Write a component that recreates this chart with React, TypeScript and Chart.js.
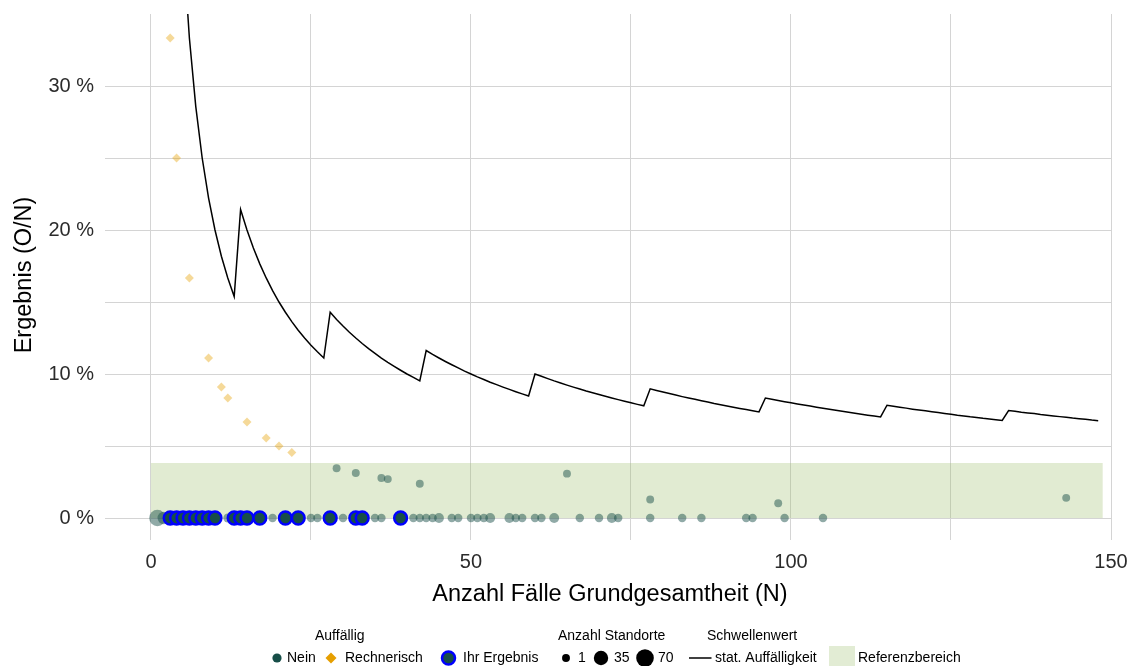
import React, { useEffect, useRef } from "react";
import { Chart, registerables } from "chart.js";

Chart.register(...registerables);

const FONT = '"Liberation Sans", Arial, Helvetica, sans-serif';

// Axis ticks
const xTicks = [0, 25, 50, 75, 100, 125, 150];
const xTickLabels = ["0", "", "50", "", "100", "", "150"];
const yTicks = [0, 5, 10, 15, 20, 25, 30];
const yTickLabels = ["0 %", "", "10 %", "", "20 %", "", "30 %"];

// Auffällig: Nein (grey points) – N, result in %, number of sites
const neinN = [1, 2, 12, 19, 25, 26, 29, 30, 32, 35, 36, 36, 37, 41, 42, 42, 43, 44, 45, 47, 48, 50, 51, 52, 53, 56, 57, 58, 60, 61, 63, 65, 67, 70, 72, 73, 78, 78, 83, 86, 93, 94, 98, 99, 105, 143];
const neinPct = [0, 0, 0, 0, 0, 0, 3.45, 0, 3.13, 0, 0, 2.78, 2.7, 0, 0, 2.38, 0, 0, 0, 0, 0, 0, 0, 0, 0, 0, 0, 0, 0, 0, 0, 3.08, 0, 0, 0, 0, 0, 1.28, 0, 0, 0, 0, 1.02, 0, 0, 1.4];
const neinCount = [55, 20, 3, 2, 2, 2, 1, 2, 1, 2, 2, 1, 1, 2, 2, 1, 2, 2, 6, 2, 2, 2, 2, 2, 6, 6, 2, 2, 2, 2, 6, 1, 2, 2, 6, 2, 2, 1, 2, 2, 2, 2, 1, 2, 2, 1];

// Auffällig: Rechnerisch (diamonds)
const rechN = [3, 4, 6, 9, 11, 12, 15, 18, 20, 22];
const rechPct = [33.33, 25.0, 16.67, 11.11, 9.09, 8.33, 6.67, 5.56, 5.0, 4.55];

// Ihr Ergebnis
const ihrN = [3, 4, 5, 6, 7, 8, 9, 10, 13, 14, 15, 17, 21, 23, 28, 32, 33, 39];
const ihrPct = [0, 0, 0, 0, 0, 0, 0, 0, 0, 0, 0, 0, 0, 0, 0, 0, 0, 0];
const ihrCount = [22, 22, 22, 22, 22, 22, 22, 22, 22, 22, 22, 22, 22, 22, 22, 22, 22, 22];

// Schwellenwert: stat. Auffälligkeit, N = 5 ... 148
const thresholdStartN = 5;
const thresholdPct = [
  40.0, 33.33, 28.57, 25.0, 22.22, 20.0, 18.18, 16.67, 15.38,
  21.43, 20.0, 18.75, 17.65, 16.67, 15.79, 15.0, 14.29, 13.64, 13.04, 12.5, 12.0, 11.54, 11.11,
  14.29, 13.79, 13.33, 12.9, 12.5, 12.12, 11.76, 11.43, 11.11, 10.81, 10.53, 10.26, 10.0, 9.76, 9.52,
  11.63, 11.36, 11.11, 10.87, 10.64, 10.42, 10.2, 10.0, 9.8, 9.62, 9.43, 9.26, 9.09, 8.93, 8.77, 8.62, 8.47,
  10.0, 9.84, 9.68, 9.52, 9.38, 9.23, 9.09, 8.96, 8.82, 8.7, 8.57, 8.45, 8.33, 8.22, 8.11, 8.0, 7.89, 7.79,
  8.97, 8.86, 8.75, 8.64, 8.54, 8.43, 8.33, 8.24, 8.14, 8.05, 7.95, 7.87, 7.78, 7.69, 7.61, 7.53, 7.45, 7.37,
  8.33, 8.25, 8.16, 8.08, 8.0, 7.92, 7.84, 7.77, 7.69, 7.62, 7.55, 7.48, 7.41, 7.34, 7.27, 7.21, 7.14, 7.08, 7.02,
  7.83, 7.76, 7.69, 7.63, 7.56, 7.5, 7.44, 7.38, 7.32, 7.26, 7.2, 7.14, 7.09, 7.03, 6.98, 6.92, 6.87, 6.82, 6.77,
  7.46, 7.41, 7.35, 7.3, 7.25, 7.19, 7.14, 7.09, 7.04, 6.99, 6.94, 6.9, 6.85, 6.8, 6.76,
];

// Referenzbereich
const refN = [0, 148.7];
const refPct = [0, 3.82];

// Size legend
const sizeLegendCounts = [1, 35, 70];

const COL_NEIN = "#174e48";
const COL_RECH = "#e69f00";

function radiusFor(count: number) {
  return 3.3 + 0.66 * Math.sqrt(count);
}

const refAreaPlugin = {
  id: "refArea",
  beforeDatasetsDraw(chart: any) {
    const { ctx, scales } = chart;
    const x0 = scales.x.getPixelForValue(refN[0]);
    const x1 = scales.x.getPixelForValue(refN[1]);
    const y0 = scales.y.getPixelForValue(refPct[0]);
    const y1 = scales.y.getPixelForValue(refPct[1]);
    ctx.save();
    ctx.fillStyle = "rgba(155,190,105,0.3)";
    ctx.fillRect(x0, y1, x1 - x0, y0 - y1);
    ctx.restore();
  },
};

const legendPlugin = {
  id: "customLegend",
  afterDraw(chart: any) {
    const ctx = chart.ctx;
    ctx.save();
    ctx.font = `14px ${FONT}`;
    ctx.fillStyle = "#000";
    ctx.textBaseline = "middle";
    ctx.textAlign = "left";
    const ty = 636;
    const ey = 658;
    ctx.fillText("Auffällig", 315, ty);
    ctx.fillText("Anzahl Standorte", 558, ty);
    ctx.fillText("Schwellenwert", 707, ty);

    const circle = (x: number, y: number, r: number, fill: string) => {
      ctx.beginPath();
      ctx.arc(x, y, r, 0, Math.PI * 2);
      ctx.fillStyle = fill;
      ctx.fill();
    };
    // Nein
    circle(277, ey, 4.6, COL_NEIN);
    ctx.fillStyle = "#000";
    ctx.fillText("Nein", 287, ey);
    // Rechnerisch
    ctx.beginPath();
    ctx.moveTo(331, ey - 5.5);
    ctx.lineTo(336.5, ey);
    ctx.lineTo(331, ey + 5.5);
    ctx.lineTo(325.5, ey);
    ctx.closePath();
    ctx.fillStyle = COL_RECH;
    ctx.fill();
    ctx.fillStyle = "#000";
    ctx.fillText("Rechnerisch", 345, ey);
    // Ihr Ergebnis
    ctx.beginPath();
    ctx.arc(448.5, ey, 6.5, 0, Math.PI * 2);
    ctx.fillStyle = COL_NEIN;
    ctx.fill();
    ctx.lineWidth = 2.5;
    ctx.strokeStyle = "#0000ff";
    ctx.stroke();
    ctx.fillStyle = "#000";
    ctx.fillText("Ihr Ergebnis", 463, ey);
    // Anzahl Standorte
    const sizeX = [566, 601, 645];
    const sizeLabelX = [578, 614, 658];
    sizeLegendCounts.forEach((c, i) => {
      circle(sizeX[i], ey, radiusFor(c), "#000");
      ctx.fillStyle = "#000";
      ctx.fillText(String(c), sizeLabelX[i], ey);
    });
    // Schwellenwert
    ctx.beginPath();
    ctx.moveTo(689, ey);
    ctx.lineTo(711.5, ey);
    ctx.lineWidth = 1.5;
    ctx.strokeStyle = "#000";
    ctx.stroke();
    ctx.fillText("stat. Auffälligkeit", 715, ey);
    // Referenzbereich
    ctx.fillStyle = "rgb(226,236,212)";
    ctx.fillRect(829, 646, 26, 20);
    ctx.fillStyle = "#000";
    ctx.fillText("Referenzbereich", 858, ey);
    ctx.restore();
  },
};

export default function App() {
  const canvasRef = useRef<HTMLCanvasElement | null>(null);

  useEffect(() => {
    const canvas = canvasRef.current;
    if (!canvas) return;
    Chart.defaults.font.family = FONT;

    const chart = new Chart(canvas, {
      type: "scatter",
      data: {
        datasets: [
          {
            label: "Ihr Ergebnis",
            data: ihrN.map((n, i) => ({ x: n, y: ihrPct[i] })),
            pointRadius: ihrCount.map(radiusFor),
            pointBackgroundColor: COL_NEIN,
            pointBorderColor: "#0000ff",
            pointBorderWidth: 2.5,
            backgroundColor: COL_NEIN,
            borderColor: "#0000ff",
          },
          {
            label: "stat. Auffälligkeit",
            data: thresholdPct.map((v, i) => ({ x: thresholdStartN + i, y: v })),
            showLine: true,
            borderColor: "#000",
            borderWidth: 1.5,
            pointRadius: 0,
            fill: false,
            tension: 0,
          },
          {
            label: "Rechnerisch",
            data: rechN.map((n, i) => ({ x: n, y: rechPct[i] })),
            pointStyle: "rectRot",
            pointRadius: 4.5,
            pointBackgroundColor: "rgba(230,159,0,0.4)",
            pointBorderWidth: 0,
            backgroundColor: "rgba(230,159,0,0.4)",
            borderColor: "rgba(0,0,0,0)",
          },
          {
            label: "Nein",
            data: neinN.map((n, i) => ({ x: n, y: neinPct[i] })),
            pointRadius: neinCount.map(radiusFor),
            pointBackgroundColor: "rgba(23,78,72,0.48)",
            pointBorderWidth: 0,
            backgroundColor: "rgba(23,78,72,0.48)",
            borderColor: "rgba(0,0,0,0)",
          },
        ],
      },
      options: {
        animation: false,
        responsive: false,
        maintainAspectRatio: false,
        layout: { padding: { top: 14, right: 22, left: 0, bottom: 50 } },
        plugins: {
          legend: { display: false },
          tooltip: { enabled: false },
        },
        events: [],
        scales: {
          x: {
            type: "linear",
            min: -6.56,
            max: 150,
            afterBuildTicks: (s: any) => {
              s.ticks = xTicks.map((v) => ({ value: v }));
            },
            afterFit: (s: any) => {
              s.height = 80;
              s.paddingLeft = 0;
              s.paddingRight = 0;
            },
            ticks: {
              callback: (v: any) => {
                const i = xTicks.indexOf(Number(v));
                return i >= 0 ? xTickLabels[i] : "";
              },
              font: { size: 20, family: FONT },
              color: "#2b2b2b",
              padding: 10,
              maxRotation: 0,
              autoSkip: false,
            },
            grid: { color: "#d4d4d4", lineWidth: 1, tickLength: 4, drawTicks: true },
            border: { display: false },
            title: {
              display: true,
              text: "Anzahl Fälle Grundgesamtheit (N)",
              font: { size: 23.5, family: FONT },
              color: "#000",
              padding: { top: 0, bottom: 7 },
            },
          },
          y: {
            type: "linear",
            min: -1.25,
            max: 35,
            afterBuildTicks: (s: any) => {
              s.ticks = yTicks.map((v) => ({ value: v }));
            },
            afterFit: (s: any) => {
              s.width = 109;
              s.paddingTop = 0;
              s.paddingBottom = 0;
            },
            ticks: {
              callback: (v: any) => {
                const i = yTicks.indexOf(Number(v));
                return i >= 0 ? yTickLabels[i] : "";
              },
              font: { size: 20, family: FONT },
              color: "#2b2b2b",
              padding: 11,
              autoSkip: false,
            },
            grid: { color: "#d4d4d4", lineWidth: 1, tickLength: 4, drawTicks: true },
            border: { display: false },
            title: {
              display: true,
              text: "Ergebnis (O/N)",
              font: { size: 23.5, family: FONT },
              color: "#000",
              padding: { top: 10, bottom: 0 },
            },
          },
        },
      } as any,
      plugins: [refAreaPlugin, legendPlugin],
    });

    return () => {
      chart.destroy();
    };
  }, []);

  return (
    <div style={{ position: "absolute", left: 0, top: 0, width: 1133, height: 666, background: "#fff" }}>
      <canvas ref={canvasRef} width={1133} height={666} style={{ display: "block", width: 1133, height: 666 }} />
    </div>
  );
}
